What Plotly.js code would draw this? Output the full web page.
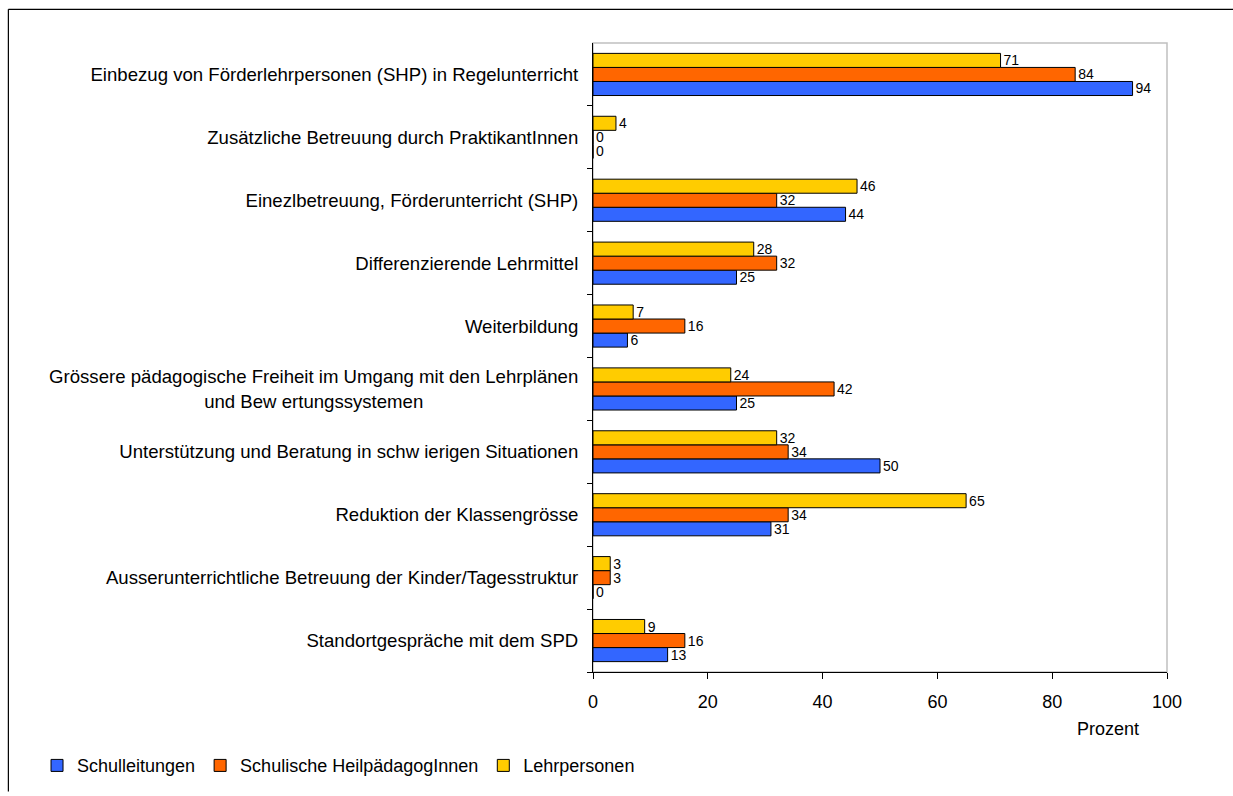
<!DOCTYPE html>
<html>
<head>
<meta charset="utf-8">
<script src="https://cdn.plot.ly/plotly-3.0.1.min.js"></script>
<style>html,body{margin:0;padding:0;background:#fff;overflow:hidden;}#chart{width:1233px;height:796px;}</style>
</head>
<body>
<div id="chart"></div>
<script>
// Categories, top to bottom as shown in the chart
const categories = [
  "Einbezug von Förderlehrpersonen (SHP) in Regelunterricht",
  "Zusätzliche Betreuung durch PraktikantInnen",
  "Einezlbetreuung, Förderunterricht (SHP)",
  "Differenzierende Lehrmittel",
  "Weiterbildung",
  "Grössere pädagogische Freiheit im Umgang mit den Lehrplänen<br>und Bew ertungssystemen",
  "Unterstützung und Beratung in schw ierigen Situationen",
  "Reduktion der Klassengrösse",
  "Ausserunterrichtliche Betreuung der Kinder/Tagesstruktur",
  "Standortgespräche mit dem SPD"
];
const seriesNames = ["Schulleitungen", "Schulische HeilpädagogInnen", "Lehrpersonen"];
const schulleitungen = [94, 0, 44, 25, 6, 25, 50, 31, 0, 13];
const heilpaedagogen = [84, 0, 32, 32, 16, 42, 34, 34, 3, 16];
const lehrpersonen   = [71, 4, 46, 28, 7, 24, 32, 65, 3, 9];
const xTickVals = [0, 20, 40, 60, 80, 100];
const xTitle = "Prozent";

const colors = ["#3366FF", "#FF6600", "#FFCC00"];
const FONT = '"Liberation Sans", Arial, sans-serif';
const catSize = 18.6;

// center multi-line tick labels (Plotly right-aligns them on a left axis)
const cnv = document.createElement('canvas').getContext('2d');
cnv.font = catSize + 'px "Liberation Sans"';
const nbspW = cnv.measureText('\u00A0').width || catSize * 0.278;
function centerLines(label) {
  const lines = label.split('<br>');
  if (lines.length < 2) return label;
  const widths = lines.map(l => cnv.measureText(l).width);
  const maxW = Math.max(...widths);
  return lines.map((l, i) => l + '\u00A0'.repeat(Math.round((maxW - widths[i]) / 2 / nbspW))).join('<br>');
}
const tickText = categories.map(centerLines);

const values = [schulleitungen, heilpaedagogen, lehrpersonen];
const traces = values.map((v, i) => ({
  type: 'bar',
  orientation: 'h',
  name: seriesNames[i],
  y: categories,
  x: v,
  text: v.map(String),
  textposition: 'outside',
  constraintext: 'none',
  cliponaxis: false,
  textfont: {family: FONT, size: 14, color: '#000'},
  marker: {color: colors[i], line: {color: '#000', width: 1}},
  hoverinfo: 'x+y'
}));

const layout = {
  width: 1233,
  height: 796,
  margin: {l: 593, r: 66, t: 43, b: 117, pad: 0},
  paper_bgcolor: '#fff',
  plot_bgcolor: '#fff',
  font: {family: FONT, color: '#000'},
  barmode: 'group',
  bargap: 0.33,
  bargroupgap: 0,
  showlegend: true,
  legend: {
    orientation: 'h',
    x: -0.9686, xanchor: 'left',
    y: -0.149, yanchor: 'middle',
    font: {family: FONT, size: 18, color: '#000'},
    traceorder: 'normal',
    itemwidth: 30,
    bgcolor: 'rgba(0,0,0,0)'
  },
  xaxis: {
    range: [0, 100],
    tickvals: xTickVals,
    ticks: 'outside',
    ticklen: 6,
    tickcolor: '#000',
    ticklabelstandoff: 7,
    showgrid: false,
    zeroline: false,
    showline: true,
    linecolor: '#000',
    linewidth: 1,
    tickfont: {family: FONT, size: 18, color: '#000'},
    automargin: false,
    fixedrange: true
  },
  yaxis: {
    type: 'category',
    categoryorder: 'array',
    categoryarray: categories.slice().reverse(),
    tickvals: categories,
    ticktext: tickText,
    tickson: 'boundaries',
    ticks: 'outside',
    ticklen: 5,
    tickcolor: '#000',
    ticklabelstandoff: 10,
    showgrid: false,
    zeroline: false,
    showline: true,
    linecolor: '#000',
    linewidth: 1,
    tickfont: {family: FONT, size: catSize, color: '#000'},
    automargin: false,
    fixedrange: true
  },
  annotations: [{
    text: xTitle,
    xref: 'paper', yref: 'paper',
    x: 0.897, y: -0.09,
    xanchor: 'center', yanchor: 'middle',
    showarrow: false,
    font: {family: FONT, size: 18, color: '#000'}
  }],
  shapes: [
    // light grey plot-area frame (top / right)
    {type: 'rect', xref: 'paper', yref: 'paper', x0: 0, x1: 1, y0: 0, y1: 1,
     line: {color: '#C0C0C0', width: 1.5}, layer: 'below'},
    // outer chart border: top and left edges (right/bottom lie outside the picture)
    {type: 'line', xref: 'paper', yref: 'paper', x0: -1.0185, x1: 1.115, y0: 1.0535, y1: 1.0535,
     line: {color: '#000', width: 1.2}, layer: 'below'},
    {type: 'line', xref: 'paper', yref: 'paper', x0: -1.0185, x1: -1.0185, y0: -0.19, y1: 1.0535,
     line: {color: '#000', width: 1.2}, layer: 'below'}
  ]
};

Plotly.newPlot('chart', traces, layout, {displayModeBar: false, staticPlot: true});
</script>
</body>
</html>
